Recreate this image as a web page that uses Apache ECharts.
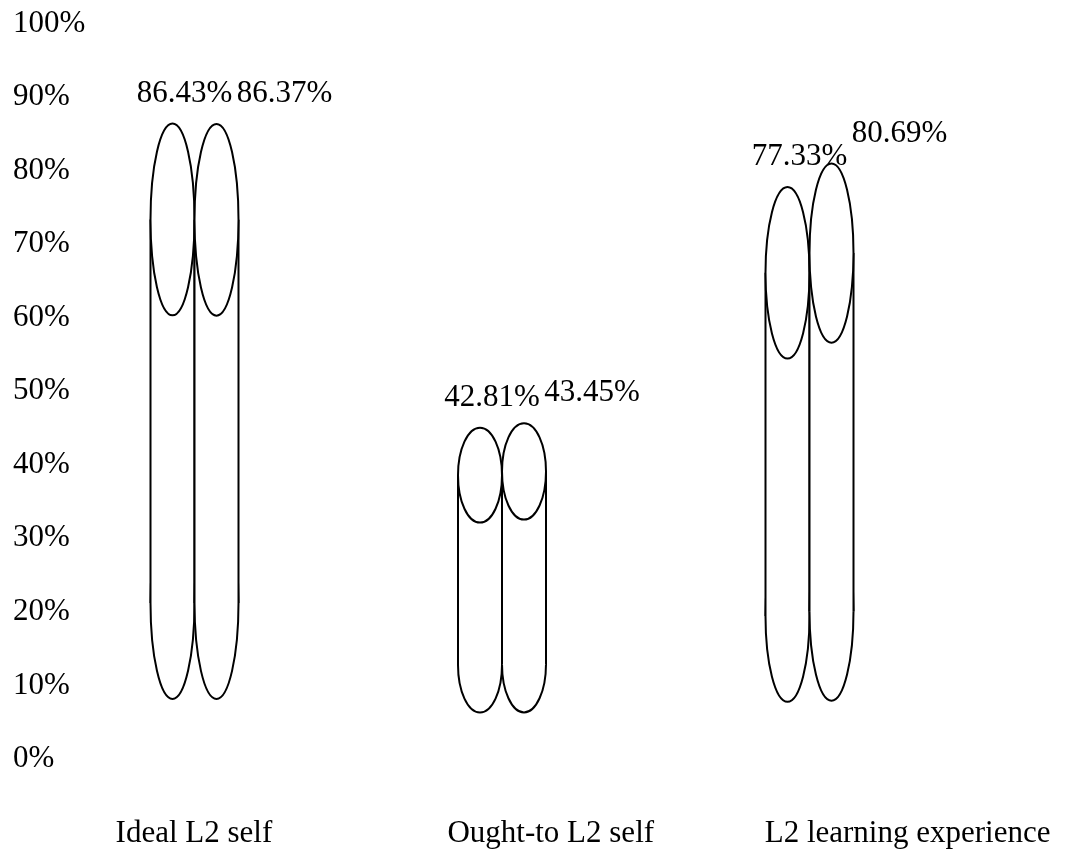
<!DOCTYPE html>
<html>
<head>
<meta charset="utf-8">
<script src="https://cdn.jsdelivr.net/npm/echarts@6/dist/echarts.min.js"></script>
<style>
  html, body { margin: 0; padding: 0; background: #ffffff; }
  #chart { width: 1086px; height: 849px; }
</style>
</head>
<body>
<div id="chart"></div>
<script>
// ---- data ----
var categories = ['Ideal L2 self', 'Ought-to L2 self', 'L2 learning experience'];
var seriesA = [86.43, 42.81, 77.33];
var seriesB = [86.37, 43.45, 80.69];
var yMin = 0, yMax = 100, yStep = 10;

// ---- style ----
var FONT = '"Liberation Serif", "Times New Roman", serif';
var FS = 31;
var HALF = 22;          // half width of one cylinder
var LW = 2;

function makeRender(values, side, labelDx) {
  return function (params, api) {
    var i = params.dataIndex;
    var v = values[i];
    var topPt = api.coord([i, v]);
    var basePt = api.coord([i, 0]);
    var cx = topPt[0] + side * HALF;
    var top = topPt[1];
    var H = 0.955 * (basePt[1] - top);
    var bottom = top + H;
    var ry = H / 6;
    var rx = HALF;
    var cTop = top + ry;
    var cBot = bottom - ry;
    var stroke = { stroke: '#000', lineWidth: LW, fill: '#fff' };
    var line = { stroke: '#000', lineWidth: LW, fill: null };
    return {
      type: 'group',
      children: [
        { type: 'text', style: { text: v.toFixed(2) + '%', x: cx + labelDx, y: top - 30,
            align: 'center', verticalAlign: 'middle', fill: '#000',
            font: FS + 'px ' + FONT } },
        { type: 'ellipse', shape: { cx: cx, cy: cBot, rx: rx, ry: ry }, style: stroke },
        { type: 'rect', shape: { x: cx - rx, y: cTop, width: 2 * rx, height: cBot - cTop },
          style: { fill: '#fff', stroke: null } },
        { type: 'line', shape: { x1: cx - rx, y1: cTop, x2: cx - rx, y2: cBot }, style: line },
        { type: 'line', shape: { x1: cx + rx, y1: cTop, x2: cx + rx, y2: cBot }, style: line },
        { type: 'ellipse', shape: { cx: cx, cy: cTop, rx: rx, ry: ry }, style: stroke }
      ]
    };
  };
}

var chart = echarts.init(document.getElementById('chart'), null, { renderer: 'canvas' });
chart.setOption({
  animation: false,
  backgroundColor: '#ffffff',
  grid: [
    { left: 40.75, right: 122.75, top: 23.5, bottom: 90 },
    { left: 15.5, right: -5, top: 23.5, bottom: 90 }
  ],
  xAxis: [
    { type: 'category', gridIndex: 0, data: categories,
      axisLine: { show: false }, axisTick: { show: false }, axisLabel: { show: false } },
    { type: 'category', gridIndex: 1, data: categories,
      axisLine: { show: false }, axisTick: { show: false },
      axisLabel: { show: true, margin: 60, color: '#000', fontFamily: FONT, fontSize: FS, interval: 0 } }
  ],
  yAxis: [
    { type: 'value', gridIndex: 0, min: yMin, max: yMax, interval: yStep,
      axisLine: { show: false }, axisTick: { show: false }, splitLine: { show: false },
      axisLabel: { formatter: '{value}%', align: 'left', margin: 27.75, color: '#000',
        fontFamily: FONT, fontSize: FS } },
    // hidden scale used for the cylinder bodies (depth-projected value scale)
    { type: 'value', gridIndex: 0, min: -4.73, max: 100.79, show: false, splitLine: { show: false } },
    { type: 'value', gridIndex: 1, min: yMin, max: yMax, show: false, splitLine: { show: false } }
  ],
  series: [
    { type: 'custom', xAxisIndex: 0, yAxisIndex: 1, data: seriesA.map(function (v, i) { return [i, v]; }),
      renderItem: makeRender(seriesA, -1, 12), clip: false },
    { type: 'custom', xAxisIndex: 0, yAxisIndex: 1, data: seriesB.map(function (v, i) { return [i, v]; }),
      renderItem: makeRender(seriesB, 1, 68), clip: false }
  ]
});
</script>
</body>
</html>
